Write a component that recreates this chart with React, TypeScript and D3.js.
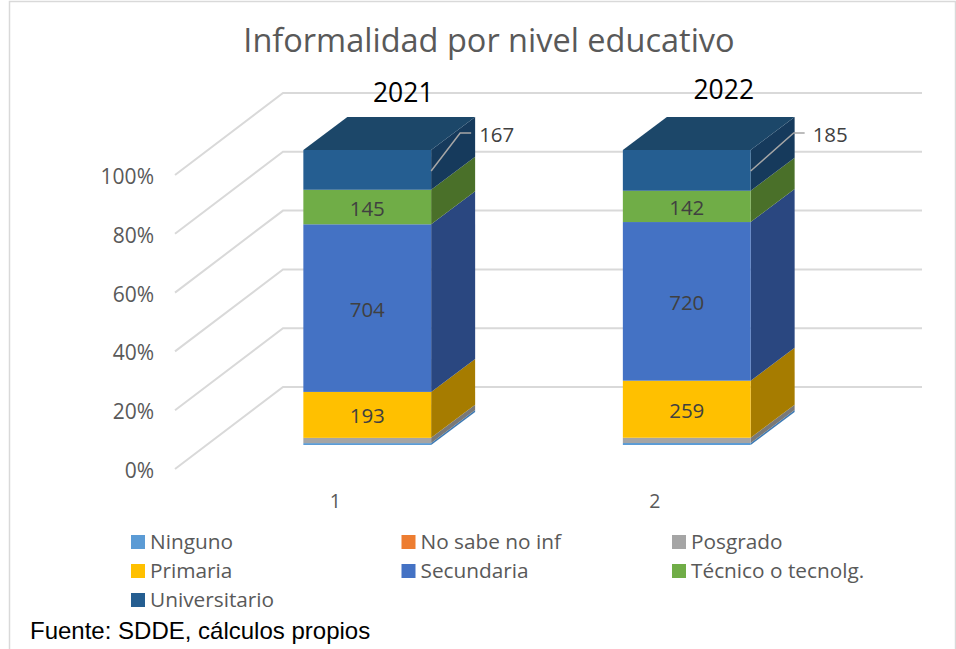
import React from 'react';
import * as d3 from 'd3';

// data
const groups = ['1', '2'];
const years = ['2021', '2022'];
const levels = ['Ninguno', 'No sabe no inf', 'Posgrado', 'Primaria', 'Secundaria', 'Técnico o tecnolg.', 'Universitario'];
const ninguno = [8, 9];
const noSabe = [0, 0];
const posgrado = [22, 24];
const primaria = [193, 259];
const secundaria = [704, 720];
const tecnico = [145, 142];
const universitario = [167, 185];
const yTicks = [0, 0.2, 0.4, 0.6, 0.8, 1];

const series = [ninguno, noSabe, posgrado, primaria, secundaria, tecnico, universitario];
const frontColors = ['#5b9bd5', '#ed7d31', '#a5a5a5', '#ffc000', '#4472c4', '#70ad47', '#255e91'];
const sideColors = ['#3c7ab5', '#ae5a21', '#797979', '#a67c00', '#2a4780', '#4a7029', '#163a5c'];
const topColor = '#1c4769';
const labelled = ['Primaria', 'Secundaria', 'Técnico o tecnolg.'];

const FONT = '"Open Sans", Lato, sans-serif';
const GREY = '#595959';

const depthX = 44;
const depthY = -33;

export default function App() {
  const rows = groups.map((g, i) => {
    const row: any = { group: g };
    levels.forEach((l, k) => { row[l] = series[k][i]; });
    return row;
  });
  const stacked = d3.stack().keys(levels).offset(d3.stackOffsetExpand)(rows);

  const x = d3.scaleBand().domain(groups).range([207.5, 846.5]).paddingInner(0.6).paddingOuter(0.3);
  const yFront = d3.scaleLinear().domain([0, 1]).range([445, 150]);
  const yAxis = d3.scaleLinear().domain([0, 1]).range([469, 175]);
  const yBack = d3.scaleLinear().domain([0, 1]).range([387, 93]);

  const bw = x.bandwidth();
  const leaderElbow = [29, 43];
  const yearShift = [36, 37];
  const yearY = [102, 99];
  const legendX = d3.scalePoint<number>().domain([0, 1, 2]).range([131, 672]);
  const legendY = d3.scaleLinear().domain([0, 2]).range([542, 600]);

  return (
    <svg width={956} height={649} style={{ position: 'absolute', left: 0, top: 0 }}>
      <rect width={956} height={649} fill="#fff" />
      <path d="M9.5,649V1.5H955.5V649" fill="none" stroke="#d9d9d9" strokeWidth={1.5} />

      <text x={489} y={52} textAnchor="middle" fontFamily={FONT} fontSize={32.5} fill={GREY}>
        Informalidad por nivel educativo
      </text>

      {yTicks.map(t => (
        <g key={t}>
          <path
            d={`M175,${yAxis(t)}L283,${yBack(t)}H922`}
            fill="none"
            stroke="#d9d9d9"
            strokeWidth={2}
          />
          <text x={154} y={yAxis(t) + 9} textAnchor="end" fontFamily={FONT} fontSize={21} fill={GREY}>
            {d3.format('.0%')(t)}
          </text>
        </g>
      ))}

      {groups.map((g, i) => {
        const x0 = x(g)!;
        const x1 = x0 + bw;
        return (
          <g key={g}>
            {stacked.map((s, k) => {
              const y0 = yFront(s[i][0]);
              const y1 = yFront(s[i][1]);
              if (y0 - y1 < 0.01) return null;
              return (
                <g key={s.key}>
                  <path
                    d={`M${x1},${y0}L${x1 + depthX},${y0 + depthY}V${y1 + depthY}L${x1},${y1}Z`}
                    fill={sideColors[k]}
                  />
                  <rect x={x0} y={y1} width={bw} height={y0 - y1} fill={frontColors[k]} />
                </g>
              );
            })}
            <path
              d={`M${x0},${yFront(1)}L${x0 + depthX},${yFront(1) + depthY}H${x1 + depthX}L${x1},${yFront(1)}Z`}
              fill={topColor}
            />
            {stacked.filter(s => labelled.includes(s.key)).map(s => (
              <text
                key={s.key}
                x={x0 + bw / 2}
                y={yFront((s[i][0] + s[i][1]) / 2) + 8.5}
                textAnchor="middle"
                fontFamily={FONT}
                fontSize={20.5}
                fill="#404040"
              >
                {rows[i][s.key]}
              </text>
            ))}
            {/* leader line for the top segment */}
            <path
              d={`M${x1},171L${x1 + leaderElbow[i]},133H${x1 + leaderElbow[i] + 11}`}
              fill="none"
              stroke="#a6a6a6"
              strokeWidth={1.5}
            />
            <text x={x1 + leaderElbow[i] + 19} y={142} fontFamily={FONT} fontSize={20.5} fill="#404040">
              {universitario[i]}
            </text>
            <text x={x0 + bw / 2 + yearShift[i]} y={yearY[i]} textAnchor="middle" fontFamily={FONT} fontSize={26.5} fill="#000">
              {years[i]}
            </text>
            <text x={x0 + 32} y={508} textAnchor="middle" fontFamily={FONT} fontSize={19.5} fill={GREY}>
              {g}
            </text>
          </g>
        );
      })}

      {levels.map((l, k) => {
        const lx = legendX(k % 3)!;
        const ly = legendY(Math.floor(k / 3));
        return (
          <g key={l}>
            <rect x={lx} y={ly - 7} width={14} height={14} fill={frontColors[k]} />
            <text x={lx + 19} y={ly + 7} fontFamily={FONT} fontSize={20.8} fill={GREY}>{l}</text>
          </g>
        );
      })}

      <text x={30} y={639} fontFamily='"Liberation Sans", Arial, sans-serif' fontSize={24} fill="#000">
        Fuente: SDDE, cálculos propios
      </text>
    </svg>
  );
}
